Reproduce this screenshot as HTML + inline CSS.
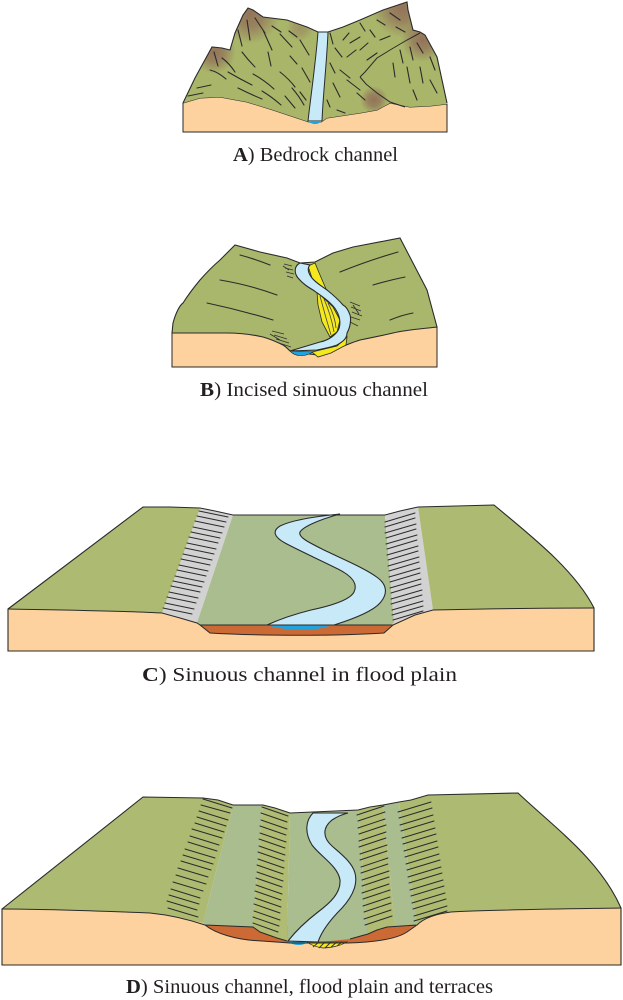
<!DOCTYPE html>
<html><head><meta charset="utf-8"><style>
html,body{margin:0;padding:0;background:#fff;}
svg{display:block;}
text{font-family:"Liberation Serif",serif;fill:#231f20;}
</style></head><body>
<svg width="623" height="1000" viewBox="0 0 623 1000" xmlns="http://www.w3.org/2000/svg">
<defs>
<radialGradient id="br"><stop offset="0" stop-color="#93735a"/><stop offset="0.45" stop-color="#93735a" stop-opacity="0.75"/><stop offset="1" stop-color="#93735a" stop-opacity="0"/></radialGradient>
<clipPath id="mtA"><path d="M183,103 L195,78 L212,47 L222,48 L230,50 L235,33 L243,15 L248,8 L253,10 L263,17 L287,20 L307,27 L318,32 L328,32 L343,27 L360,20 L383,10 L407,2 L408,10 L413,30 L420,32 L425,35 L437,57 L447,103 L447,104 L430,106 L410,107 L390,103 L377,110 L360,113 L327,118 L321,122 L309,122 L297,118 L273,110 L247,102 L220,97 L200,98 Z"/></clipPath>
</defs>
<rect width="623" height="1000" fill="#fff"/>

<!-- ===== PANEL A ===== -->
<path d="M183,103 L200,98 L220,97 L247,102 L273,110 L297,118 L309,122 L321,122 L327,118 L360,113 L377,110 L390,103 L410,107 L430,106 L447,104 L447,132 L183,132 Z" fill="#fdd29e" stroke="#2a2a2a" stroke-width="1"/>
<path d="M183,103 L195,78 L212,47 L222,48 L230,50 L235,33 L243,15 L248,8 L253,10 L263,17 L287,20 L307,27 L318,32 L328,32 L343,27 L360,20 L383,10 L407,2 L408,10 L413,30 L420,32 L425,35 L437,57 L447,103 L447,104 L430,106 L410,107 L390,103 L377,110 L360,113 L327,118 L321,122 L309,122 L297,118 L273,110 L247,102 L220,97 L200,98 Z" fill="#a9b66a"/>
<g clip-path="url(#mtA)">
<circle cx="250" cy="14" r="30" fill="url(#br)"/>
<circle cx="214" cy="52" r="22" fill="url(#br)"/>
<circle cx="402" cy="8" r="30" fill="url(#br)"/>
<circle cx="423" cy="40" r="22" fill="url(#br)"/>
<circle cx="374" cy="100" r="14" fill="url(#br)"/>
<circle cx="300" cy="28" r="14" fill="url(#br)" opacity="0.5"/>
</g>
<path d="M420,33 L407,40 L390,50 L377,58 L365,72 L360,77 M360,77 L366,84 L377,93 L390,102 L405,107" fill="none" stroke="#2a2a2a" stroke-width="1"/>
<path fill="none" stroke="#2b2b2b" stroke-width="1.1" stroke-linecap="round" d="
M210,70 Q218,72 226,79 M197,88 L211,85 M188,96 L203,93 M222,58 Q229,63 235,72 M228,72 Q240,79 252,85
M238,88 Q250,94 262,99 M253,74 Q264,80 274,89 M262,91 Q272,97 281,105 M280,72 Q289,79 295,87
M292,88 Q299,96 304,105 M214,52 L218,66 M242,52 Q248,60 255,67 M238,30 L242,46 M247,20 L250,40
M255,18 L265,33 M263,30 L272,50 M272,26 L281,32 M280,34 L292,47 M289,31 L297,37 M290,56 L297,64
M268,52 L271,66 M300,40 L309,55 M302,68 L310,82 M300,92 L306,100 M285,96 L295,108
M330,33 L333,44 M335,48 L342,57 M330,63 L335,73 M333,83 L340,97 M327,100 L330,107 M343,40 L349,33
M360,23 L365,31 M370,30 L375,37 M377,20 L385,25 M390,13 L400,20 M396,27 L405,32 M350,43 L360,37
M347,57 L356,50 M360,50 L368,43 M340,70 L350,78 M347,80 L360,90 M357,93 L365,100 M367,60 L377,53
M380,40 L390,36 M410,47 L413,60 M417,43 L423,53 M400,50 L403,63 M393,63 L395,77 M407,67 L410,83
M420,67 L423,83 M430,57 L435,70 M430,80 L437,93 M413,90 L417,100 M337,110 L345,113"/>
<path d="M183,103 L195,78 L212,47 L222,48 L230,50 L235,33 L243,15 L248,8 L253,10 L263,17 L287,20 L307,27 L318,32 L328,32 L343,27 L360,20 L383,10 L407,2 L408,10 L413,30 L420,32 L425,35 L437,57 L447,103" fill="none" stroke="#2a2a2a" stroke-width="1.1"/>
<path d="M318,32 L328,32 C327,60 323,95 322,121 L308,121 C311,95 316,60 318,32 Z" fill="#c8eaf8" stroke="#2a2a2a" stroke-width="1"/>
<path d="M308,121 C312,125 318,125 322,121 Z" fill="#1ea4e0"/>
<text x="233" y="161" font-size="20" textLength="165" lengthAdjust="spacingAndGlyphs"><tspan font-weight="bold">A</tspan>) Bedrock channel</text>

<!-- ===== PANEL B ===== -->
<path d="M172,333 L437,327 L437,367 L172,367 Z" fill="#fdd29e" stroke="#2a2a2a" stroke-width="1"/>
<path d="M172,333 L173,323 C176,312 180,305 183,303 C190,292 195,286 200,280 C207,272 213,266 220,260 L235,245 L260,252 L287,258 L300,263 L315,262 L333,253 L353,247 L400,238 L413,263 L427,290 L437,327 C420,329 405,330 393,333 C380,336 370,338 360,340 C350,343 345,346 340,347 L318,355 L300,353 L290,351 C287,348 285,346 283,345 C275,341 270,339 263,337 C250,334 235,333 227,333 Z" fill="#a8b76b" stroke="#2a2a2a" stroke-width="1.1"/>
<path fill="none" stroke="#2b2b2b" stroke-width="1.1" stroke-linecap="round" d="M240,255 Q255,259 270,265 M220,280 Q250,285 277,295 M207,303 Q240,310 273,320 M340,272 Q370,260 398,252 M373,285 Q390,280 405,277 M390,320 Q402,315 413,313"/>
<path fill="none" stroke="#333" stroke-width="0.9" d="M284,264 L292,266 M285,268 L293,270 M286,272 L294,274 M287,276 L293,278 M283,266 L289,270
M350,302 L360,306 M351,307 L361,311 M352,312 L362,316 M351,317 L360,320 M350,322 L358,326 M353,305 L359,314
M272,331 L284,334 M274,335 L287,339 M276,339 L289,343 M279,343 L291,347 M270,334 L280,340"/>
<path d="M317,292 L333,307 L340,320 L337,332 L330,337 L322,322 L318,305 Z" fill="#f4e81e" stroke="#2a2a2a" stroke-width="0.8"/>
<path d="M320,296 Q325,315 331,335 M324,299 Q331,315 334,332 M328,303 Q335,316 336,328" fill="none" stroke="#444" stroke-width="0.8"/>
<path d="M308,266 L315,263 L320,275 L326,289 L320,288 L312,278 Z" fill="#f4e81e" stroke="#2a2a2a" stroke-width="0.8"/>
<path d="M312,352 L337,346 L347,337 L346,345 L331,353 L318,357 Z" fill="#f4e81e" stroke="#2a2a2a" stroke-width="0.8"/>
<path d="M300,263 C294,266 294,273 298,278 C303,284 308,287 313,290 C323,297 332,303 336,310 C341,318 341,327 337,332 C332,338 325,341 320,342 C310,345 300,348 290,351 L317,350 C327,348 332,347 337,345 C344,341 347,338 347,333 C351,326 351,318 350,315 C348,309 345,306 343,305 C337,298 332,294 327,290 C320,285 315,282 312,278 C308,273 307,268 310,265 Z" fill="#c8eaf8" stroke="#2a2a2a" stroke-width="1.1"/>
<path d="M290,351 C295,357 305,357 313,352 Z" fill="#1ea4e0" stroke="#2a2a2a" stroke-width="0.6"/>
<text x="200" y="396" font-size="20" textLength="228" lengthAdjust="spacingAndGlyphs"><tspan font-weight="bold">B</tspan>) Incised sinuous channel</text>

<!-- ===== PANEL C ===== -->
<rect x="8" y="608" width="586" height="43" fill="#fdd29e"/>
<path d="M200,625 L393,625 L384,633 C340,636 260,636 210,633 Z" fill="#cc6a35"/>
<path d="M8,609 L143,507 L170,507 L200,508 L162,613 C130,611 60,610 8,609 Z" fill="#adba72"/>
<path d="M200,508 L215,511 L233,515 L197,623 L180,618 L162,613 Z" fill="#d2d2d2"/>
<path d="M233,515 L385,515 L394,623 L390,625 L200,625 L197,623 Z" fill="#a9bd8f"/>
<path d="M385,515 L400,511 L418,507 L433,610 L415,615 L394,623 Z" fill="#d2d2d2"/>
<path d="M418,507 L494,505 C530,535 575,570 594,608 C550,608 480,609 433,610 Z" fill="#adba72"/>
<path fill="none" stroke="#2b2b2b" stroke-width="1" stroke-linecap="round" d="
M199,511 L228,517 M197,516 L226,522 M195,521 L224,527 M193,527 L222,533 M191,532 L220,538 M189,537 L218,543
M187,543 L216,549 M185,548 L214,554 M183,554 L212,560 M181,559 L210,565 M179,565 L208,571 M177,570 L206,576
M175,576 L204,582 M173,581 L202,587 M171,586 L200,592 M169,592 L198,598 M167,597 L196,603 M165,603 L194,609 M163,608 L192,614
M385,522 L415,513 M385,527 L415,518 M385,533 L416,524 M386,538 L416,529 M386,544 L417,535 M387,549 L417,540
M387,555 L418,546 M388,560 L418,551 M388,566 L419,557 M389,571 L419,562 M389,577 L420,568 M390,582 L420,573
M390,588 L421,579 M391,593 L421,584 M391,599 L422,590 M391,604 L422,595 M392,610 L423,601 M392,615 L423,606 M393,620 L423,611"/>
<path d="M340,514 C320,516 292,520 280,526 C272,531 274,537 285,543 C300,551 320,560 338,569 C352,576 358,584 354,592 C350,600 330,606 311,610 C295,614 278,620 267,625 L334,625 C350,620 372,612 380,603 C388,594 387,585 378,578 C365,568 340,558 322,549 C308,542 298,537 300,532 C303,527 318,520 340,514 Z" fill="#c8eaf8" stroke="#2a2a2a" stroke-width="1.1"/>
<path d="M267,625 C285,631 315,632 332,625 Z" fill="#1ea4e0"/>
<path d="M8,609 L143,507 L170,507 L200,508 L215,511 L233,515 L385,515 L400,511 L418,507 L494,505 C530,535 575,570 594,608 L594,651 L8,651 Z" fill="none" stroke="#2a2a2a" stroke-width="1.1"/>
<path d="M8,609 C60,610 130,611 162,613 L180,618 L197,623 L200,625 M393,625 L415,615 L433,610 C480,609 550,608 594,608 M200,625 L210,633 C260,636 340,636 384,633 L393,625 M200,625 L393,625" fill="none" stroke="#2a2a2a" stroke-width="1"/>
<text x="142" y="681" font-size="20" textLength="315" lengthAdjust="spacingAndGlyphs"><tspan font-weight="bold">C</tspan>) Sinuous channel in flood plain</text>

<!-- ===== PANEL D ===== -->
<rect x="2" y="908" width="619" height="57" fill="#fdd29e"/>
<path d="M205,925 C215,933 235,940 262,941 L290,943 L348,943 C380,942 398,938 407,932 L417,925 Z" fill="#cc6a35"/>
<path d="M2,909 L143,797 L203,798 L218,800 L233,805 L203,923 C190,920 170,915 150,913 C100,911 40,909 2,909 Z" fill="#adba72"/>
<path d="M233,805 L263,805 L253,927 L205,925 L203,923 Z" fill="#a9bd8f"/>
<path d="M263,805 L275,808 L290,813 L287,941 L277,938 L260,932 L253,927 Z" fill="#b0bb74"/>
<path d="M290,813 L358,810 L368,934 L350,939 L320,942 L290,942 L287,941 Z" fill="#a9bd8f"/>
<path d="M358,810 L383,805 L395,927 L387,927 L377,930 L368,934 Z" fill="#b0bb74"/>
<path d="M383,805 L399,802 L417,925 L395,927 Z" fill="#a9bd8f"/>
<path d="M399,802 L411,800 L428,795 L518,793 C555,828 600,860 621,908 C560,909 480,910 451,912 C435,914 424,918 417,925 Z" fill="#adba72"/>
<path fill="none" stroke="#2b2b2b" stroke-width="1" stroke-linecap="round" d="
M203,799 L232,808 M201,805 L230,813 M199,811 L228,820 M197,817 L226,826 M195,823 L224,832 M192,829 L222,838
M190,836 L219,845 M188,842 L217,851 M185,849 L215,858 M183,855 L213,864 M181,861 L211,870 M178,868 L208,877
M176,875 L206,884 M173,882 L203,891 M171,889 L200,898 M169,895 L199,904 M167,901 L197,910 M168,908 L198,917
M262,807 L288,816 M261,813 L287,822 M261,820 L287,829 M260,826 L286,835 M260,833 L286,842 M259,839 L285,848
M259,846 L285,855 M258,852 L284,861 M258,859 L284,868 M257,865 L283,874 M257,872 L283,881 M256,878 L282,887
M256,885 L282,894 M255,891 L281,900 M255,898 L281,907 M254,904 L280,913 M254,911 L280,920 M253,917 L279,926 M253,923 L278,932
M357,815 L384,806 M358,821 L385,812 M358,828 L385,819 M359,834 L386,825 M359,841 L386,832 M359,847 L386,838
M360,854 L387,845 M360,860 L387,851 M361,867 L388,858 M361,873 L388,864 M362,880 L389,871 M362,886 L389,877
M362,893 L389,884 M363,899 L390,890 M363,906 L390,897 M364,912 L391,903 M364,919 L391,910 M365,925 L392,916
M398,812 L431,802 M399,818 L432,808 M400,825 L433,815 M401,831 L434,821 M402,838 L435,828 M403,844 L436,834
M404,851 L437,841 M405,857 L438,847 M406,864 L439,854 M407,870 L440,860 M408,877 L441,867 M409,883 L442,873
M410,890 L443,880 M411,896 L444,886 M412,903 L445,893 M413,909 L446,899 M414,916 L447,906 M414,921 L447,911"/>
<path d="M313,813 C306,820 304,832 312,845 C320,856 338,866 340,880 C341,893 330,903 318,912 C305,922 295,932 288,941 L318,942 C322,930 332,918 342,908 C352,897 358,885 355,873 C352,862 340,853 332,846 C323,838 322,828 332,820 C338,816 344,814 348,813 Z" fill="#c8eaf8" stroke="#2a2a2a" stroke-width="1.1"/>
<path d="M288,942 C295,946 303,946 308,942 Z" fill="#1ea4e0"/>
<path d="M307,942 L347,942 C340,946 330,948 323,948 C316,947 311,945 307,942 Z" fill="#f4e81e" stroke="#2a2a2a" stroke-width="0.7"/>
<path d="M313,947 L319,942 M319,948 L325,942 M325,948 L331,942 M331,947 L337,942 M337,946 L342,942" stroke="#333" stroke-width="1" fill="none"/>
<path d="M2,909 L143,797 L203,798 L218,800 L233,805 L263,805 L275,808 L290,813 L358,810 L370,807 L383,805 L399,802 L411,800 L428,795 L518,793 C555,828 600,860 621,908 L621,965 L2,965 Z" fill="none" stroke="#2a2a2a" stroke-width="1.1"/>
<path d="M2,909 C40,909 100,911 150,913 C170,915 190,920 205,925 L253,927 L260,932 L277,938 L287,941 M350,939 L368,934 L377,930 L387,927 L417,925 C424,918 435,914 451,912 C480,910 560,909 621,908 M205,925 C215,933 235,940 262,941 L290,943 L348,943 C380,942 398,938 407,932 L417,925" fill="none" stroke="#2a2a2a" stroke-width="1"/>
<text x="126" y="993" font-size="20" textLength="367" lengthAdjust="spacingAndGlyphs"><tspan font-weight="bold">D</tspan>) Sinuous channel, flood plain and terraces</text>
</svg>
</body></html>
